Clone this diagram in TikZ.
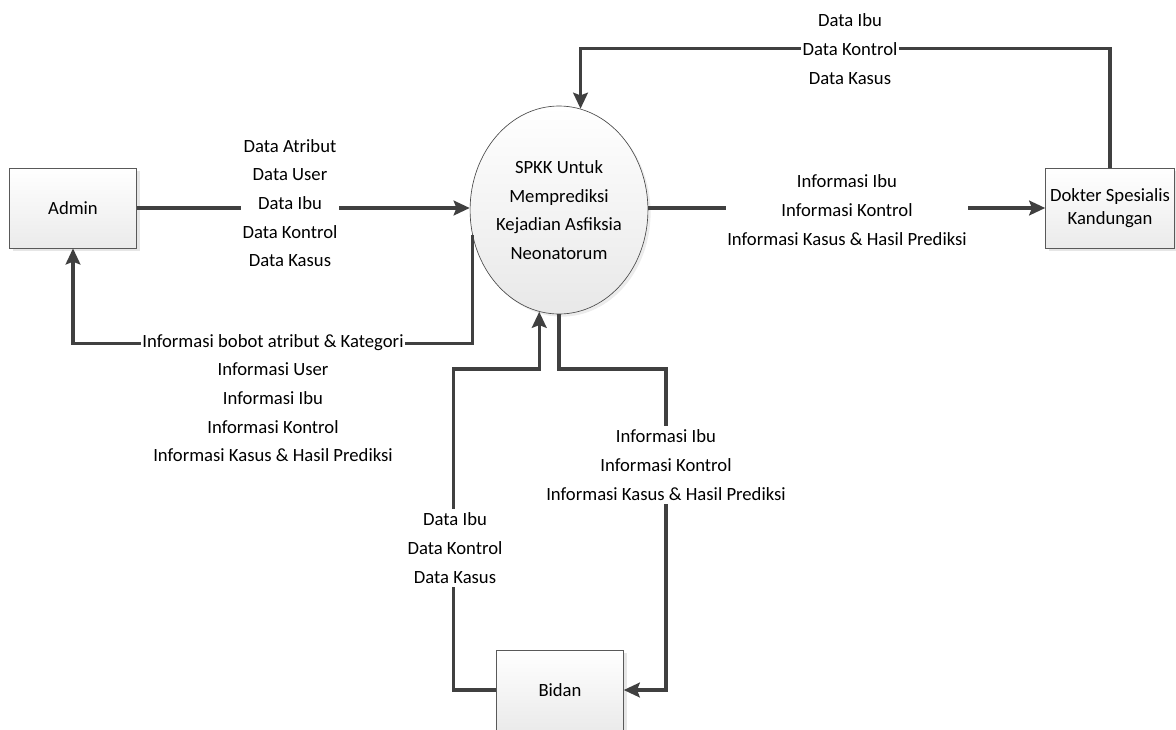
\documentclass[tikz,border=0pt]{standalone}
\usepackage{fontspec}
\setmainfont{Carlito}
\usetikzlibrary{arrows.meta,shadows,shapes.geometric}

\begin{document}
\begin{tikzpicture}[x=0.75pt,y=-0.75pt,font=\fontsize{14}{21.5}\selectfont,
  entity/.style={draw=black!65,line width=0.6pt,top color=white,bottom color=black!8,
    minimum width=95pt,minimum height=60pt,align=center,font=\fontsize{14}{17.5}\selectfont,
    drop shadow={shadow xshift=2.5pt,shadow yshift=-2.5pt,opacity=0.2}},
  process/.style={ellipse,draw=black!70,line width=0.5pt,top color=white,bottom color=black!9,
    minimum width=126pt,minimum height=156pt,inner sep=0pt,align=center,
    drop shadow={shadow xshift=2pt,shadow yshift=-2pt,opacity=0.15}},
  flow/.style={draw=black!75,line width=2.4pt,-{Stealth[length=12pt,width=11pt,inset=2pt]}},
  flowlabel/.style={fill=white,inner xsep=1pt,inner ysep=3pt,align=center}]
\useasboundingbox (0,0) rectangle (1176,729);

% entitas dan proses
\node[entity] (admin) at (73,208) {Admin};
\node[entity] (dokter) at (1110,208) {Dokter Spesialis\\Kandungan};
\node[entity] (bidan) at (560,690) {Bidan};
\node[process] (spkk) at (559,210) {SPKK Untuk\\Memprediksi\\Kejadian Asfiksia\\Neonatorum};

% aliran data
\draw[flow] (admin.east) -- (admin.east -| spkk.west);
\draw[flow] (spkk.196) -- ++(0,109) -| (admin.south);
\draw[flow] (dokter.west -| spkk.east) -- (dokter.west);
\draw[flow] (dokter.north) -- ++(0,-119) -| (spkk.78);
\draw[flow] (bidan.west) -- ++(-43,0) |- (spkk.259 |- 0,369) -- (spkk.259);
\draw[flow] (spkk.south) |- (666,369) |- (bidan.east);

% label aliran
\node[flowlabel] (lbladmin) at (290,203) {Data Atribut\\Data User\\Data Ibu\\Data Kontrol\\Data Kasus};
\node[flowlabel] (lblinfo) at (273,398) {Informasi bobot atribut \& Kategori\\Informasi User\\Informasi Ibu\\Informasi Kontrol\\Informasi Kasus \& Hasil Prediksi};
\node[flowlabel] (lbldokter) at (847,210) {Informasi Ibu\\Informasi Kontrol\\Informasi Kasus \& Hasil Prediksi};
\node[flowlabel] (lblkontrol) at (850,49) {Data Ibu\\Data Kontrol\\Data Kasus};
\node[flowlabel] (lblbidan) at (455,548) {Data Ibu\\Data Kontrol\\Data Kasus};
\node[flowlabel] (lblhasil) at (666,465) {Informasi Ibu\\Informasi Kontrol\\Informasi Kasus \& Hasil Prediksi};
\end{tikzpicture}
\end{document}
